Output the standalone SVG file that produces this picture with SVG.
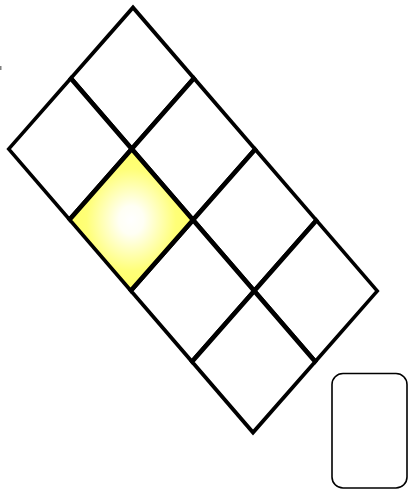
<svg xmlns="http://www.w3.org/2000/svg" width="409" height="490" viewBox="0 0 409 490">
<style>
.cell{fill:#ffffff;stroke:#000000;stroke-width:4.6;stroke-linejoin:miter}
.hl{fill:url(#glow)}
.box{fill:#ffffff;stroke:#000000;stroke-width:1.6}
</style>
<defs>
<radialGradient id="glow" cx="0.5" cy="0.5" r="0.5">
<stop offset="0" stop-color="#ffffff"/>
<stop offset="0.2" stop-color="#fffff4"/>
<stop offset="0.72" stop-color="#ffff78"/>
<stop offset="1" stop-color="#ffff66"/>
</radialGradient>
<clipPath id="gridclip">
<polygon points="133,4.6 379.6,291 253,435.4 6.4,149"/>
</clipPath>
</defs>
<rect x="0" y="66" width="1.5" height="4" fill="#808080"/>
<g clip-path="url(#gridclip)">
<g id="cell-0-0"><polygon class="cell" points="133,7 194.25,78 131.75,149 70.5,78"/></g>
<g id="cell-0-1"><polygon class="cell" points="70.5,78 131.75,149 69.25,220 8,149"/></g>
<g id="cell-1-0"><polygon class="cell" points="194.25,78 255.5,149 193,220 131.75,149"/></g>
<g id="cell-2-0"><polygon class="cell" points="255.5,149 316.75,220 254.25,291 193,220"/></g>
<g id="cell-2-1"><polygon class="cell" points="193,220 254.25,291 191.75,362 130.5,291"/></g>
<g id="cell-3-0"><polygon class="cell" points="316.75,220 378,291 315.5,362 254.25,291"/></g>
<g id="cell-3-1"><polygon class="cell" points="254.25,291 315.5,362 253,433 191.75,362"/></g>
<g id="cell-1-1"><polygon class="cell hl" points="131.75,149 193,220 130.5,291 69.25,220"/></g>
</g>
<g id="connectors"></g>
<g id="box"><rect class="box" x="332" y="373.5" width="75" height="114.5" rx="11" ry="11"/></g>
</svg>
